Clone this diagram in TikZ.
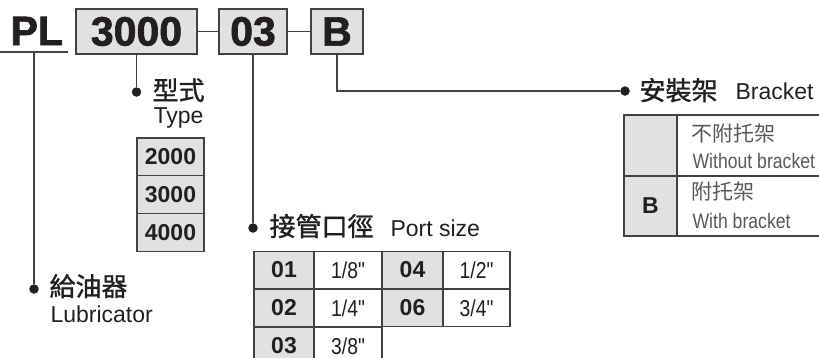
\documentclass[tikz,border=0pt]{standalone}
\usepackage{fontspec}
\setmainfont{Liberation Sans}
\newfontfamily\cjk{Noto Sans CJK TC}
\newfontfamily\cjkm[FakeBold=1.2]{Noto Sans CJK TC}
\newfontfamily\heavy[UprightFont={* Bold},FakeBold=1.6]{Liberation Sans}
\newfontfamily\narrow[FakeStretch=0.84]{Liberation Sans}
\usetikzlibrary{positioning}

\definecolor{ink}{HTML}{231F20}
\definecolor{cellgray}{HTML}{E1E1E1}
\newcommand{\fs}[1]{\fontsize{#1}{#1}\selectfont}

\begin{document}
\begin{tikzpicture}[x=1pt,y=-1pt,line width=1.1pt,draw=ink!85,text=ink,
  code/.style={draw,fill=cellgray,font=\heavy\fs{41},minimum height=45pt,inner sep=0pt},
  cell/.style={draw,minimum height=37.7pt,inner sep=0pt},
  key/.style={cell,fill=cellgray,font=\bfseries\fs{23}},
  val/.style={cell,fill=white,font=\narrow\fs{23}},
  dot/.style={circle,fill=ink,minimum size=9.5pt,inner sep=0pt},
  lbl/.style={anchor=base west,inner sep=0pt},
  zh/.style={lbl,font=\cjkm\fs{26}},
  en/.style={lbl,font=\fs{23}},
  note/.style={lbl,text=ink!75}]

\useasboundingbox (0,0) rectangle (819,357);

% model code
\node[lbl,font=\heavy\fs{41}] (pl) at (10,45) {PL};
\node[code,minimum width=121pt] (c3000) at (136.5,31.5) {3000};
\node[code,minimum width=68pt] (c03) at (253,31.5) {03};
\node[code,minimum width=52pt] (cB) at (337,31.5) {B};
\draw (c3000) -- (c03);
\draw (c03) -- (cB);
\draw (0,52) -- (68,52);
\coordinate (plfoot) at (34,52);

% dots
\node[dot] (dlub) at (34,289) {};
\node[dot] (dtype) at (136.5,92) {};
\node[dot] (dport) at (253,228) {};
\node[dot] (dbr) at (625,91) {};
\draw (plfoot) -- (dlub);
\draw (c3000) -- (dtype);
\draw (c03) -- (dport);
\draw (cB) |- (dbr);

% labels
\node[zh] (ltype) at (152,100) {型式};
\node[en] (ltypeen) at (153,123) {Type};
\node[zh] (llub) at (49,296) {給油器};
\node[en] (lluben) at (50,322) {Lubricator};
\node[zh] (lport) at (269,236) {接管口徑};
\node[en] (lporten) at (390,236) {Port size};
\node[zh] (lbr) at (639,100) {安裝架};
\node[en] (lbren) at (735,99) {Bracket};

% type table
\foreach \t [count=\i] in {2000,3000,4000}
  \node[key,minimum width=67pt] (t\t) at (170.5,{138+37.7*(\i-0.5)}) {\t};

% port size table
\foreach \k/\v [count=\i] in {01/{1/8"},02/{1/4"},03/{3/8"}} {
  \node[key,minimum width=60pt] (p\k) at (284,{251+38*(\i-0.5)}) {\k};
  \node[val,minimum width=68pt] (s\k) at (348,{251+38*(\i-0.5)}) {\v};
}
\foreach \k/\v [count=\i] in {04/{1/2"},06/{3/4"}} {
  \node[key,minimum width=61pt] (p\k) at (412.5,{251+38*(\i-0.5)}) {\k};
  \node[val,minimum width=67pt] (s\k) at (476.5,{251+38*(\i-0.5)}) {\v};
}

% bracket table
\node[key,minimum width=53pt,minimum height=61pt] (bnone) at (650.5,145.5) {};
\node[key,minimum width=53pt,minimum height=60pt] (bB) at (650.5,206) {B};
\node[cell,minimum width=150pt,minimum height=61pt] (bnonetxt) at (752,145.5) {};
\node[cell,minimum width=150pt,minimum height=60pt] (bBtxt) at (752,206) {};
\node[note,font=\cjk\fs{21}] (n1) at (691,141) {不附托架};
\node[note,font=\narrow\fs{21}] (n1en) at (692,168) {Without bracket};
\node[note,font=\cjk\fs{21}] (n2) at (691,199) {附托架};
\node[note,font=\narrow\fs{21}] (n2en) at (692,228) {With bracket};
\end{tikzpicture}
\end{document}
